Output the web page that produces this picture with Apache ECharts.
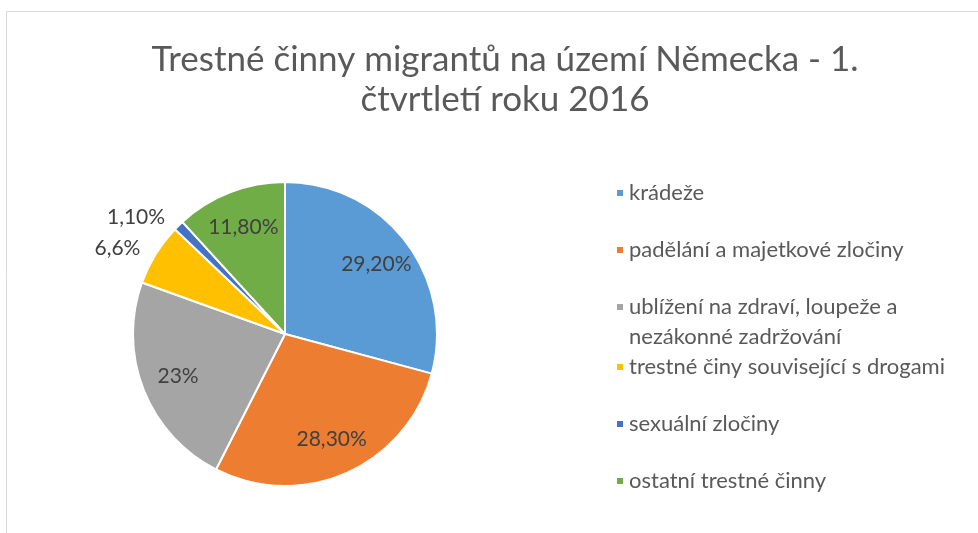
<!DOCTYPE html>
<html>
<head>
<meta charset="utf-8">
<title>Trestné činny migrantů</title>
<script src="https://cdn.jsdelivr.net/npm/echarts@6/dist/echarts.min.js"></script>
<style>
  html, body { margin: 0; padding: 0; background: #fff; }
  #chart { width: 978px; height: 533px; }
</style>
</head>
<body>
<div id="chart"></div>
<script>
// data
const categories = [
  'krádeže',
  'padělání a majetkové zločiny',
  'ublížení na zdraví, loupeže a nezákonné zadržování',
  'trestné činy související s drogami',
  'sexuální zločiny',
  'ostatní trestné činny'
]
const values = [29.2, 28.3, 23, 6.6, 1.1, 11.8]
const valueLabels = ['29,20%', '28,30%', '23%', '6,6%', '1,10%', '11,80%']

const palette = ['#5B9BD5', '#ED7D31', '#A5A5A5', '#FFC000', '#4472C4', '#70AD47']
const font = 'Lato'
const smallSlice = 8 // below this the label goes outside

const chart = echarts.init(document.getElementById('chart'))

const legendBase = {
  orient: 'vertical',
  left: 615,
  padding: 0,
  icon: 'rect',
  itemWidth: 8,
  itemHeight: 8,
  itemGap: 27,
  selectedMode: false,
  textStyle: {
    fontFamily: font,
    fontSize: 22,
    color: '#595959',
    lineHeight: 30
  }
}

chart.setOption({
  color: palette,
  animation: false,
  title: {
    text: 'Trestné činny migrantů na území Německa - 1.\nčtvrtletí roku 2016',
    left: 500,
    top: 35,
    textAlign: 'center',
    textStyle: {
      fontFamily: font,
      fontSize: 35,
      fontWeight: 'normal',
      color: '#595959',
      lineHeight: 40
    }
  },
  graphic: [{
    type: 'rect',
    shape: { x: 6.5, y: 11.5, width: 1000, height: 600 },
    style: { fill: 'none', stroke: '#d9d9d9', lineWidth: 1 },
    silent: true
  }],
  legend: [
    Object.assign({}, legendBase, { top: 178, data: categories.slice(0, 2) }),
    Object.assign({}, legendBase, {
      top: 262,
      data: categories.slice(2, 3),
      // blank first line keeps the marker level with the first text line
      formatter: function (name) { return '\n' + name.replace('loupeže a ', 'loupeže a\n') }
    }),
    Object.assign({}, legendBase, { top: 352, data: categories.slice(3) })
  ],
  series: [
    {
      // the visible pie, small slices labelled outside
      type: 'pie',
      center: [285, 334],
      radius: 152,
      startAngle: 90,
      clockwise: true,
      itemStyle: { borderColor: '#fff', borderWidth: 2 },
      emphasis: { disabled: true },
      label: {
        position: 'outside',
        alignTo: 'none',
        fontFamily: font,
        fontSize: 21,
        color: '#404040',
        formatter: function (p) { return valueLabels[p.dataIndex] }
      },
      labelLine: { show: false, length: 12, length2: 0 },
      data: categories.map(function (name, i) {
        return { name: name, value: values[i], label: { show: values[i] < smallSlice } }
      })
    },
    {
      // invisible twin with a bigger radius, only to set the inner label distance
      type: 'pie',
      center: [285, 334],
      radius: [0, 224],
      startAngle: 90,
      clockwise: true,
      silent: true,
      emphasis: { disabled: true },
      itemStyle: { color: 'rgba(0,0,0,0)', borderWidth: 0 },
      label: {
        position: 'inside',
        fontFamily: font,
        fontSize: 21,
        color: '#404040',
        formatter: function (p) { return valueLabels[p.dataIndex] }
      },
      labelLine: { show: false },
      data: categories.map(function (name, i) {
        return { name: name, value: values[i], label: { show: values[i] >= smallSlice } }
      })
    }
  ]
})
</script>
</body>
</html>
